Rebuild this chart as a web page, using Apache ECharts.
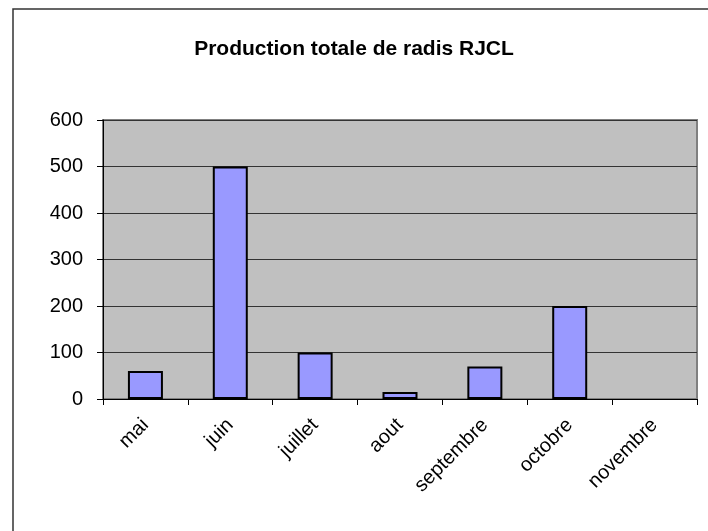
<!DOCTYPE html>
<html lang="fr">
<head>
    <meta charset="UTF-8">
    <title>Production totale de radis RJCL</title>
    <script src="https://cdn.jsdelivr.net/npm/echarts@6/dist/echarts.min.js"></script>
    <style>
        html, body { margin: 0; padding: 0; background: #fff; }
    </style>
</head>
<body>
    <div id="container" style="width: 708px;height: 531px"></div>
    <script>
        // données
        var mois = ['mai', 'juin', 'juillet', 'aout', 'septembre', 'octobre', 'novembre'];
        var production = [60, 500, 100, 15, 70, 200, 0];
        var yTicks = [0, 100, 200, 300, 400, 500, 600];

        var police = 'Liberation Sans, Arial, sans-serif';
        var myChart = echarts.init(document.getElementById('container'));

        // une barre à 0 ne dessine rien (pas de trait de bordure)
        var barres = production.map(function (v) {
            return v === 0 ? { value: v, itemStyle: { borderWidth: 0 } } : v;
        });

        myChart.setOption({
            backgroundColor: '#fff',
            animation: false,
            title: {
                text: 'Production totale de radis RJCL',
                left: 'center',
                top: 34,
                textStyle: { fontFamily: police, fontSize: 21, fontWeight: 'bold', color: '#000' }
            },
            // cadre extérieur du graphique
            graphic: [{
                type: 'rect',
                shape: { x: 13, y: 9, width: 720, height: 540 },
                style: { fill: 'none', stroke: '#333', lineWidth: 1.5 },
                z: -1
            }],
            grid: {
                left: 103, right: 11, top: 120, bottom: 132,
                show: true,
                backgroundColor: '#c0c0c0',
                borderColor: '#808080',
                borderWidth: 2
            },
            xAxis: {
                type: 'category',
                data: mois,
                boundaryGap: true,
                axisLine: { lineStyle: { color: '#000', width: 1 } },
                axisTick: { show: true, alignWithLabel: false, length: 6, lineStyle: { color: '#000' } },
                axisLabel: {
                    rotate: 45, margin: 23, interval: 0,
                    fontFamily: police, fontSize: 20, color: '#000'
                }
            },
            yAxis: {
                type: 'value',
                min: yTicks[0],
                max: yTicks[yTicks.length - 1],
                interval: 100,
                axisLine: { show: true, lineStyle: { color: '#000', width: 1 } },
                axisTick: { show: true, length: 6, lineStyle: { color: '#000' } },
                axisLabel: { margin: 20, fontFamily: police, fontSize: 20, color: '#000' },
                splitLine: { show: true, lineStyle: { color: '#333', width: 1 } }
            },
            series: [{
                type: 'bar',
                data: barres,
                barWidth: 35,
                itemStyle: { color: '#9999ff', borderColor: '#000', borderWidth: 2 }
            }]
        });
    </script>
</body>
</html>
